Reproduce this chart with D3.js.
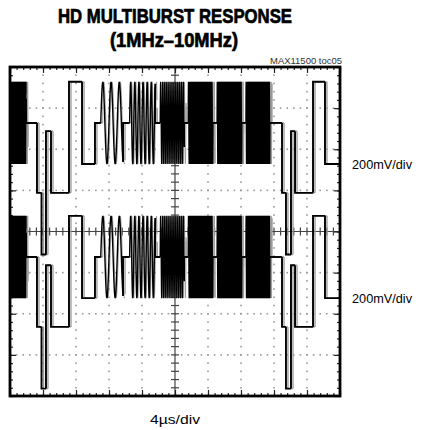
<!DOCTYPE html>
<html>
<head>
<meta charset="utf-8">
<script src="https://cdn.jsdelivr.net/npm/d3@7"></script>
<style>
  body { margin: 0; background: #fff; }
  text { font-family: "Liberation Sans Narrow", "Liberation Sans", sans-serif; }
</style>
</head>
<body>
<script>
// trace pieces (time in µs, level in mV from the burst pedestal)
const segStart = [0, 1.94, 3.27, 3.82, 4.36, 4.97, 7.15, 8.73, 10.30, 11.0, 13.7, 14.5, 17.6, 18.2, 21.1, 21.6, 24.6, 25.1, 28.1, 28.6, 31.5, 32.97, 33.45, 34.06, 34.55, 36.73, 38.18];
const segEnd   = [1.94, 3.27, 3.82, 4.36, 4.97, 7.15, 8.73, 10.30, 11.0, 13.7, 14.5, 17.6, 18.2, 21.1, 21.6, 24.6, 25.1, 28.1, 28.6, 31.5, 32.97, 33.45, 34.06, 34.55, 36.73, 38.18, 40];
const segLevel = [0, 0, -340, -640, -40, -340, 200, -200, 0, 0, 0, 0, 0, 0, 0, 0, 0, 0, 0, 0, 0, -340, -640, -40, -340, 200, -200];
// burst frequency in MHz (0 = flat level)
const segFreq  = [10, 0, 0, 0, 0, 0, 0, 0, 0, 1, 0, 2, 0, 4, 0, 6, 0, 8, 0, 10, 0, 0, 0, 0, 0, 0, 0];
const burstAmp = 200;

// the two channels, pedestal position on screen in mV
const channelOffset = [528, -124];
const channelLabels = ['200mV/div', '200mV/div'];
const labelLevel = [-200, -200];

const W = 422, H = 430;
const svg = d3.select('body').append('svg')
    .attr('width', W)
    .attr('height', H);

const x = d3.scaleLinear().domain([0, 40]).range([10, 340]);
const y = d3.scaleLinear().domain([-800, 800]).range([396, 67]);

// title
svg.append('text')
    .attr('x', 175).attr('y', 23)
    .attr('text-anchor', 'middle')
    .attr('font-size', 20).attr('font-weight', 'bold')
    .attr('stroke', '#000').attr('stroke-width', 0.7)
    .attr('textLength', 234).attr('lengthAdjust', 'spacingAndGlyphs')
    .text('HD MULTIBURST RESPONSE');
svg.append('text')
    .attr('x', 174).attr('y', 47)
    .attr('text-anchor', 'middle')
    .attr('font-size', 20).attr('font-weight', 'bold')
    .attr('stroke', '#000').attr('stroke-width', 0.7)
    .attr('textLength', 128).attr('lengthAdjust', 'spacingAndGlyphs')
    .text('(1MHz\u201310MHz)');
svg.append('text')
    .attr('x', 342).attr('y', 64)
    .attr('text-anchor', 'end')
    .attr('font-size', 9).attr('fill', '#333')
    .attr('textLength', 72).attr('lengthAdjust', 'spacingAndGlyphs')
    .text('MAX11500 toc05');

// dotted grid, one dot per minor division
const grid = svg.append('g').attr('fill', '#999');
const xMinor = d3.range(0, 40.01, 0.8);
const yMinor = d3.range(-800, 800.1, 40);
d3.range(4, 40, 4).filter(d => d != 20).forEach(t => {
    grid.selectAll(null).data(yMinor.slice(1, -1)).enter().append('rect')
        .attr('x', x(t) - 0.8).attr('y', d => y(d) - 0.8)
        .attr('width', 1.6).attr('height', 1.6);
});
d3.range(-600, 800, 200).filter(d => d != 0).forEach(v => {
    grid.selectAll(null).data(xMinor.slice(1, -1)).enter().append('rect')
        .attr('x', d => x(d) - 0.8).attr('y', y(v) - 0.8)
        .attr('width', 1.6).attr('height', 1.6);
});

// centre cross with ticks
const centre = svg.append('g').attr('stroke', '#444').attr('stroke-width', 1.2);
centre.append('line').attr('x1', x(0)).attr('x2', x(40)).attr('y1', y(0)).attr('y2', y(0));
centre.append('line').attr('x1', x(20)).attr('x2', x(20)).attr('y1', y(-800)).attr('y2', y(800));
centre.selectAll(null).data(xMinor).enter().append('line')
    .attr('x1', d => x(d)).attr('x2', d => x(d))
    .attr('y1', y(0) - 4).attr('y2', y(0) + 4);
centre.selectAll(null).data(yMinor).enter().append('line')
    .attr('x1', x(20) - 4).attr('x2', x(20) + 4)
    .attr('y1', d => y(d)).attr('y2', d => y(d));

// frame ticks via d3 axes (no labels)
const isMajorT = d => Math.abs(d / 4 - Math.round(d / 4)) < 1e-6;
const isMajorV = d => Math.abs(d / 200 - Math.round(d / 200)) < 1e-6;
function frameAxis(axis, tr) {
    const g = svg.append('g').attr('transform', tr).call(axis);
    g.select('.domain').remove();
    g.selectAll('text').remove();
    g.selectAll('line').attr('stroke', '#222').attr('stroke-width', 1.2);
    return g;
}
frameAxis(d3.axisTop(x).tickValues(xMinor).tickSize(-3).tickFormat(''), `translate(0,${y(800)})`);
frameAxis(d3.axisBottom(x).tickValues(xMinor).tickSize(-3).tickFormat(''), `translate(0,${y(-800)})`);
frameAxis(d3.axisLeft(y).tickValues(yMinor).tickSize(-3).tickFormat(''), `translate(${x(0)},0)`);
frameAxis(d3.axisRight(y).tickValues(yMinor).tickSize(-3).tickFormat(''), `translate(${x(40)},0)`);
frameAxis(d3.axisTop(x).tickValues(xMinor.filter(isMajorT)).tickSize(-6).tickFormat(''), `translate(0,${y(800)})`);
frameAxis(d3.axisBottom(x).tickValues(xMinor.filter(isMajorT)).tickSize(-6).tickFormat(''), `translate(0,${y(-800)})`);
frameAxis(d3.axisLeft(y).tickValues(yMinor.filter(isMajorV)).tickSize(-6).tickFormat(''), `translate(${x(0)},0)`);
frameAxis(d3.axisRight(y).tickValues(yMinor.filter(isMajorV)).tickSize(-6).tickFormat(''), `translate(${x(40)},0)`);

// points of one piece, starting from the end of the previous piece so edges join
function piecePoints(i, shift) {
    const s = segStart[i], e = segEnd[i], f = segFreq[i];
    const pts = [];
    if (i > 0) {
        const pf = segFreq[i - 1];
        const pl = pf == 0 ? segLevel[i - 1]
            : segLevel[i - 1] + burstAmp * Math.sin(2 * Math.PI * pf * (segEnd[i - 1] - segStart[i - 1] + shift));
        pts.push([s, pl]);
    }
    if (f == 0) {
        pts.push([s, segLevel[i]], [e, segLevel[i]]);
    } else {
        const step = 1 / (f * 24);
        for (let t = s; t <= e + 1e-9; t += step) {
            pts.push([t, segLevel[i] + burstAmp * Math.sin(2 * Math.PI * f * (t - s + shift))]);
        }
    }
    return pts;
}

svg.append('clipPath').attr('id', 'scr')
  .append('rect').attr('x', x(0)).attr('y', y(800)).attr('width', x(40) - x(0)).attr('height', y(-800) - y(800));

const traces = svg.append('g').attr('clip-path', 'url(#scr)');
channelOffset.forEach(off => {
    const line = d3.line().x(d => x(d[0])).y(d => y(d[1] + off));
    // faint persistence copy
    traces.append('g').attr('transform', 'translate(2,0)')
        .selectAll('path').data(segStart.map((s, i) => i)).enter().append('path')
        .attr('fill', 'none').attr('stroke', '#999')
        .attr('stroke-width', i => segFreq[i] == 0 ? 1.3 : 0.9)
        .attr('d', i => line(piecePoints(i, 0.12)));
    traces.append('g')
        .selectAll('path').data(segStart.map((s, i) => i)).enter().append('path')
        .attr('fill', 'none').attr('stroke', '#000')
        .attr('stroke-width', i => segFreq[i] == 0 ? 1.9 : (segFreq[i] == 4 ? 1.3 : 1.4))
        .attr('d', i => line(piecePoints(i, 0)));
});

// frame
svg.append('rect')
    .attr('x', x(0)).attr('y', y(800))
    .attr('width', x(40) - x(0)).attr('height', y(-800) - y(800))
    .attr('fill', 'none').attr('stroke', '#000').attr('stroke-width', 2.8);

// channel labels
channelOffset.forEach((off, i) => {
    svg.append('text')
        .attr('x', 352).attr('y', y(off + labelLevel[i]) + 5)
        .attr('font-size', 13)
        .attr('textLength', 60).attr('lengthAdjust', 'spacingAndGlyphs')
        .text(channelLabels[i]);
});

svg.append('text')
    .attr('x', 175).attr('y', 424)
    .attr('text-anchor', 'middle')
    .attr('font-size', 13)
    .attr('textLength', 50).attr('lengthAdjust', 'spacingAndGlyphs')
    .text('4\u00b5s/div');
</script>
</body>
</html>
